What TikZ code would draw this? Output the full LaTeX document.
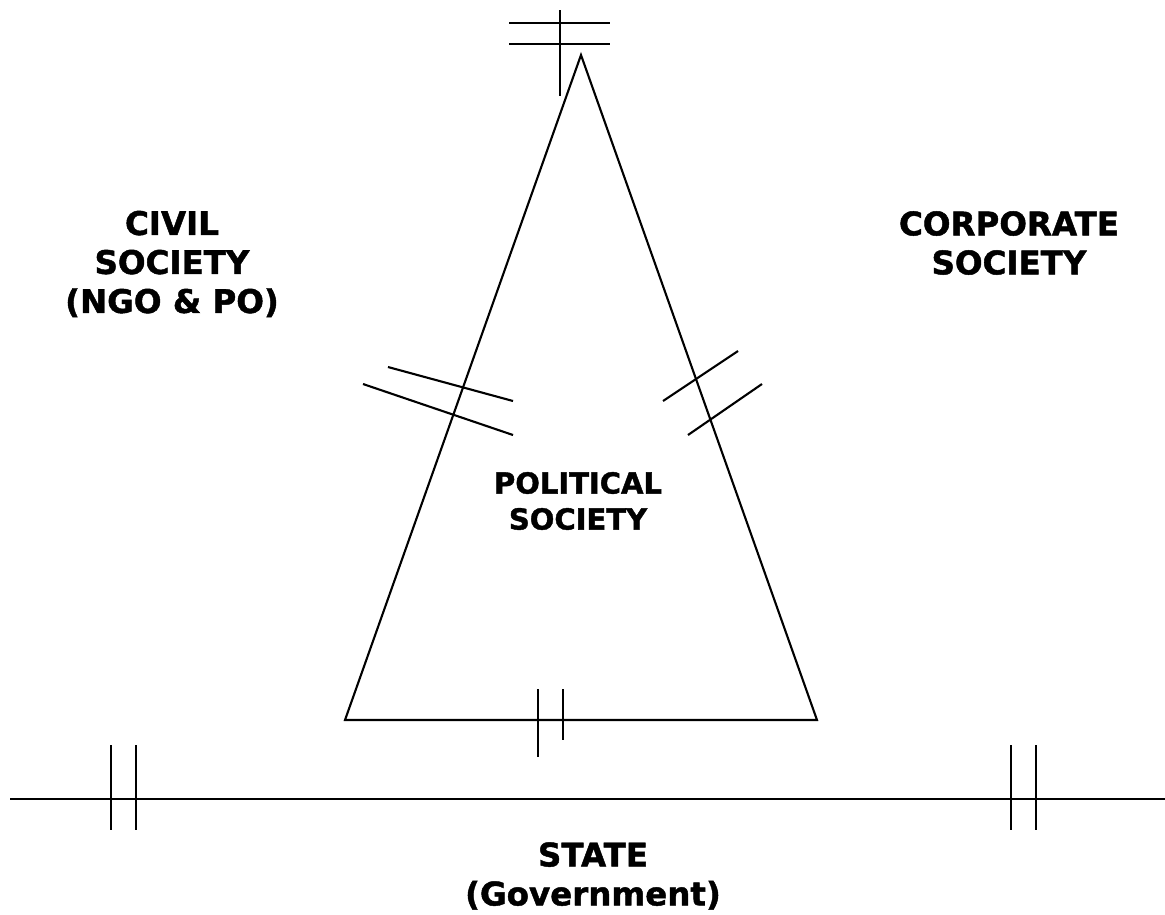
\documentclass[tikz,border=0pt]{standalone}
\usepackage{fontspec}
\setmainfont{DejaVu Sans}[BoldFeatures={FakeBold=1.4}]
\usepackage{tikz}
\usetikzlibrary{positioning}

\begin{document}
\begin{tikzpicture}[
        x=1pt, y=-1pt,
        line width=2.1pt,
        bigtext/.style={align=center, inner sep=0pt, font=\bfseries\fontsize{32.5}{39}\selectfont},
        smalltext/.style={align=center, inner sep=0pt, font=\bfseries\fontsize{29}{36}\selectfont}
    ]
    \useasboundingbox (0,0) rectangle (1165,914);

    % Corners of the triangle
    \coordinate (apex) at (581,55);
    \coordinate (bl) at (345,720);
    \coordinate (br) at (817,720);

    % Ends of the state line
    \coordinate (s1) at (10,799);
    \coordinate (s2) at (1165,799);

    % Labels
    \node[bigtext] (civil) at (172,264) {CIVIL\\SOCIETY\\(NGO \& PO)};
    \node[bigtext] (corporate) at (1009,243) {CORPORATE\\SOCIETY};
    \node[smalltext] (political) at (578,501) {POLITICAL\\SOCIETY};
    \node[bigtext] (state) at (593,876) {STATE\\(Government)};

    % Triangle and state line
    \draw (apex) -- (br) -- (bl) -- cycle;
    \draw (s1) -- (s2);

    % Ticks at the top
    \draw (560,10) -- (560,96);
    \draw (509,23) -- (610,23);
    \draw (509,44) -- (610,44);

    % Ticks on the left side
    \draw (388,367) -- (513,401);
    \draw (363,384) -- (513,435);

    % Ticks on the right side
    \draw (663,401) -- (738,351);
    \draw (688,435) -- (762,384);

    % Ticks on the base
    \draw (538,689) -- (538,757);
    \draw (563,689) -- (563,740);

    % Ticks on the state line
    \draw (111,745) -- (111,830);
    \draw (136,745) -- (136,830);
    \draw (1011,745) -- (1011,830);
    \draw (1036,745) -- (1036,830);

\end{tikzpicture}
\end{document}
